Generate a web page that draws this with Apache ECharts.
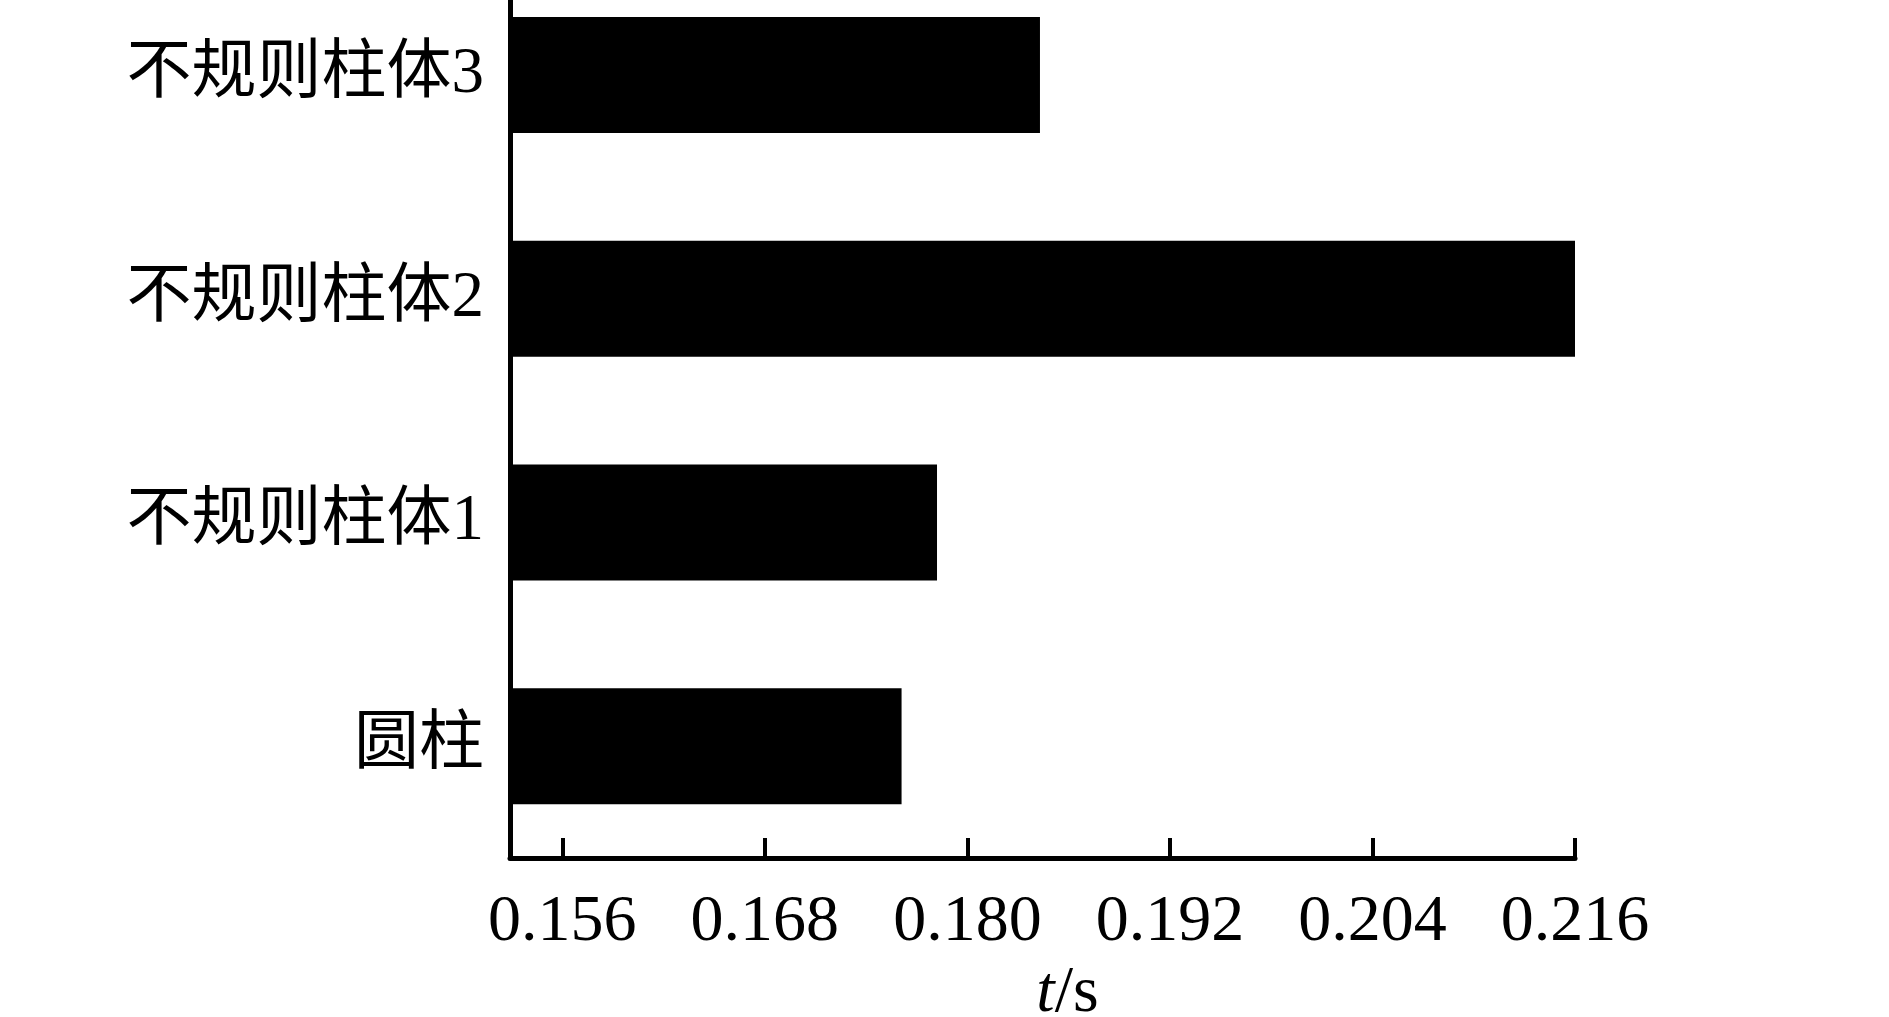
<!DOCTYPE html>
<html>
<head>
<meta charset="utf-8">
<script src="https://cdn.jsdelivr.net/npm/echarts@6/dist/echarts.min.js"></script>
<style>
html,body{margin:0;padding:0;background:#fff;}
#chart{width:1889px;height:1017px;}
</style>
</head>
<body>
<div id="chart"></div>
<script>
const categories = ['圆柱', '不规则柱体1', '不规则柱体2', '不规则柱体3'];
const times = [0.1761, 0.1782, 0.2161, 0.1843];
const tickValues = [0.156, 0.168, 0.180, 0.192, 0.204, 0.216];

const FONT = '"Liberation Serif", "Times New Roman", "Noto Sans CJK SC", serif';
const chart = echarts.init(document.getElementById('chart'), null, {renderer: 'canvas'});
chart.setOption({
  backgroundColor: '#fff',
  animation: false,
  grid: {left: 510, right: 314, top: -37, bottom: 159, containLabel: false, outerBoundsMode: 'none'},
  xAxis: {
    type: 'value',
    min: 0.1529,
    max: 0.216,
    name: '{i|t}/s',
    nameLocation: 'middle',
    nameGap: 103,
    nameTextStyle: {
      fontFamily: FONT, fontSize: 66, color: '#000', padding: [0, 0, 0, 50],
      rich: {i: {fontFamily: FONT, fontSize: 66, fontStyle: 'italic', color: '#000'}}
    },
    axisLine: {show: true, lineStyle: {color: '#000', width: 5}},
    axisTick: {show: true, inside: true, length: 20, lineStyle: {color: '#000', width: 4}, customValues: tickValues},
    axisLabel: {
      show: true, margin: 32, color: '#000', fontFamily: FONT, fontSize: 66,
      customValues: tickValues,
      formatter: v => v.toFixed(3)
    },
    splitLine: {show: false}
  },
  yAxis: {
    type: 'category',
    data: categories,
    axisLine: {show: true, lineStyle: {color: '#000', width: 5}},
    axisTick: {show: false},
    axisLabel: {margin: 26, color: '#000', fontFamily: FONT, fontSize: 65},
    splitLine: {show: false}
  },
  series: [{
    type: 'bar',
    data: times,
    barWidth: 116,
    clip: true,
    itemStyle: {color: '#000'}
  }]
});
</script>
</body>
</html>
